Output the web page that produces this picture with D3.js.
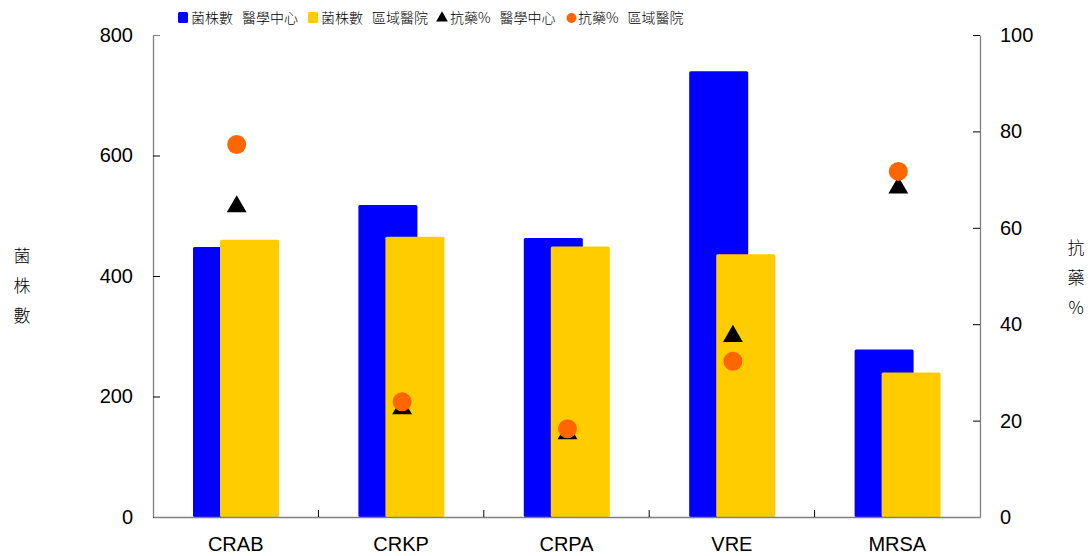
<!DOCTYPE html>
<html>
<head>
<meta charset="utf-8">
<script src="https://cdn.jsdelivr.net/npm/d3@7"></script>
<style>
  body { margin: 0; background: #fff; }
  svg { display: block; }
  .tick text { font-family: "Liberation Sans", Arial, sans-serif; }
  .cjk { font-family: "Noto Sans CJK TC", "Noto Sans CJK SC", serif; }
</style>
</head>
<body>
<div id="chart"></div>
<script>
// data
const categories = ['CRAB', 'CRKP', 'CRPA', 'VRE', 'MRSA']
const countMedical  = [448, 518, 463, 740, 278]   // 菌株數 醫學中心
const countRegional = [460, 465, 449, 436, 240]   // 菌株數 區域醫院
const pctMedical    = [64.6, 22.7, 17.5, 37.7, 68.5]  // 抗藥% 醫學中心
const pctRegional   = [77.3, 23.9, 18.3, 32.3, 71.7]  // 抗藥% 區域醫院
const leftTicks  = [0, 200, 400, 600, 800]
const rightTicks = [0, 20, 40, 60, 80, 100]
const legendLabels = [['菌株數', '醫學中心'], ['菌株數', '區域醫院'], ['抗藥%', '醫學中心'], ['抗藥%', '區域醫院']]

const W = 1091, H = 556,
      m = { left: 153, right: W - 980, top: 35, bottom: H - 517 },
      blue = '#0000ff', gold = '#ffcc00', orange = '#ff6600', axisCol = '#808080'

const svg = d3.select('#chart').append('svg')
  .attr('width', W).attr('height', H)

const x  = d3.scaleBand().domain(categories).range([m.left, W - m.right]),
      yL = d3.scaleLinear().domain([0, 800]).range([H - m.bottom, m.top]),
      yR = d3.scaleLinear().domain([0, 100]).range([H - m.bottom, m.top]),
      bw = 59

// bars: blue behind, gold in front shifted right
svg.append('g').selectAll('rect')
  .data(categories)
  .join('rect')
    .attr('x', d => x(d) + 40)
    .attr('y', (d, i) => yL(countMedical[i]))
    .attr('width', bw)
    .attr('height', (d, i) => yL(0) - yL(countMedical[i]))
    .attr('rx', 1.5)
    .attr('fill', blue)

svg.append('g').selectAll('rect')
  .data(categories)
  .join('rect')
    .attr('x', d => x(d) + 67)
    .attr('y', (d, i) => yL(countRegional[i]))
    .attr('width', bw)
    .attr('height', (d, i) => yL(0) - yL(countRegional[i]))
    .attr('rx', 1.5)
    .attr('fill', gold)

// axes
const fmt = d3.format('d')
const gL = svg.append('g')
  .attr('transform', 'translate(' + m.left + ',0)')
  .call(d3.axisLeft(yL).tickValues(leftTicks).tickFormat(fmt).tickSizeInner(-7).tickSizeOuter(0).tickPadding(20))
const gR = svg.append('g')
  .attr('transform', 'translate(' + (W - m.right) + ',0)')
  .call(d3.axisRight(yR).tickValues(rightTicks).tickFormat(fmt).tickSizeInner(-7).tickSizeOuter(0).tickPadding(20))
const gB = svg.append('g')
  .attr('transform', 'translate(0,' + (H - m.bottom) + ')')
  .call(d3.axisBottom(x).tickSize(0).tickPadding(20))

;[gL, gR, gB].forEach(g => {
  g.select('.domain').attr('stroke', axisCol).attr('stroke-width', 1.3)
  g.selectAll('.tick line').attr('stroke', '#000')
  g.selectAll('.tick text').attr('font-size', 20).attr('fill', '#000')
    .style('font-family', '"Liberation Sans", Arial, sans-serif')
})
gL.select('.tick:last-of-type line').attr('stroke', axisCol)

// inward ticks between categories on the bottom axis
gB.selectAll('.sep')
  .data(categories.slice(1))
  .join('line')
    .attr('class', 'sep')
    .attr('x1', d => x(d)).attr('x2', d => x(d))
    .attr('y1', 0).attr('y2', -7)
    .attr('stroke', '#000')

// markers
const cx = d => x(d) + x.bandwidth() / 2 + 1,
      tri = d3.symbol().type(d3.symbolTriangle).size(170)

svg.append('g').selectAll('path')
  .data(categories)
  .join('path')
    .attr('d', tri)
    .attr('transform', (d, i) => 'translate(' + cx(d) + ',' + (yR(pctMedical[i]) + 1) + ')')
    .attr('fill', '#000')

svg.append('g').selectAll('circle')
  .data(categories)
  .join('circle')
    .attr('cx', cx)
    .attr('cy', (d, i) => yR(pctRegional[i]))
    .attr('r', 9.5)
    .attr('fill', orange)

// axis titles, stacked vertically
const titleL = ['菌', '株', '數'], titleR = ['抗', '藥', '%']
svg.append('g').selectAll('text')
  .data(titleL)
  .join('text')
    .attr('class', 'cjk')
    .attr('x', 22).attr('y', (d, i) => 262 + i * 30)
    .attr('text-anchor', 'middle')
    .attr('font-size', 17)
    .attr('font-weight', 300)
    .text(d => d)
svg.append('g').selectAll('text')
  .data(titleR)
  .join('text')
    .attr('class', 'cjk')
    .attr('x', 1076).attr('y', (d, i) => 254 + i * 30)
    .attr('text-anchor', 'middle')
    .attr('font-size', 17)
    .attr('font-weight', 300)
    .text(d => d)

// legend
const legX = [178, 308, 437, 567],
      leg = svg.append('g').selectAll('g')
        .data(legendLabels)
        .join('g')
          .attr('transform', (d, i) => 'translate(' + legX[i] + ',18)')

leg.each(function (d, i) {
  let g = d3.select(this)
  if (i < 2) {
    g.append('rect').attr('x', 0).attr('y', -6).attr('width', 10).attr('height', 11)
      .attr('rx', 1.5).attr('fill', i ? gold : blue)
  } else if (i === 2) {
    g.append('path').attr('d', d3.symbol().type(d3.symbolTriangle).size(60))
      .attr('transform', 'translate(5,0)').attr('fill', '#000')
  } else {
    g.append('circle').attr('cx', 4.5).attr('cy', 0).attr('r', 5).attr('fill', orange)
  }
  let t = g.append('text')
    .attr('class', 'cjk')
    .attr('x', i === 3 ? 11 : 13).attr('y', 0)
    .attr('dy', '0.36em')
    .attr('font-size', 14)
    .attr('font-weight', 300)
  t.append('tspan').text(d[0])
  t.append('tspan').attr('dx', 9).text(d[1])
})
</script>
</body>
</html>
